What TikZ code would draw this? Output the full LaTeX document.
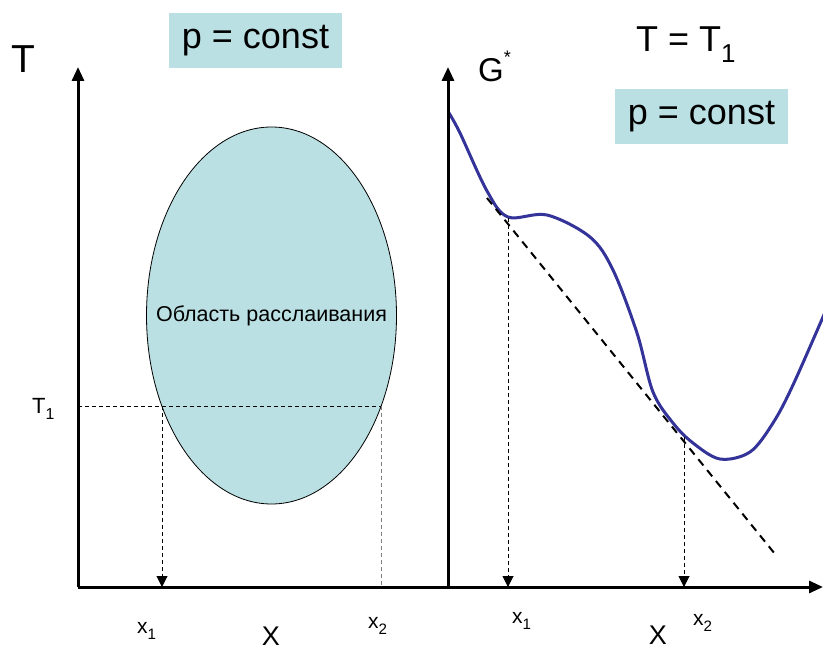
\documentclass[tikz,border=0pt]{standalone}
\usepackage{fontspec}
\setmainfont{Liberation Sans}
\usepackage{graphicx}
\usetikzlibrary{arrows.meta}
\definecolor{boxfill}{RGB}{186,224,227}
\definecolor{curveblue}{RGB}{51,51,153}
\newcommand\lowsub[1]{\raisebox{-0.3em}{\scalebox{0.72}{#1}}}
\newcommand\fsz[1]{\fontsize{#1}{#1}\selectfont}
\tikzset{
  axis/.style={line width=3pt,-{Triangle[length=14pt,width=12pt]}},
  droparrow/.style={line width=1pt,dash pattern=on 4pt off 3pt,-{Triangle[length=11pt,width=11pt]}},
  thindash/.style={line width=0.9pt,dash pattern=on 4pt off 3pt},
  constbox/.style={fill=boxfill,inner sep=0pt,minimum width=173pt,minimum height=55pt,font=\fsz{36}},
  lbl/.style={inner sep=0pt,font=\fsz{21}},
}
\begin{document}
\begin{tikzpicture}[x=1pt,y=-1pt]
\useasboundingbox (0,0) rectangle (823,650);
% ellipse
\draw[fill=boxfill,line width=0.8pt] (271.5,315.5) ellipse [x radius=125,y radius=188.5];
\node[inner sep=0pt,font=\fsz{21.5}] (reg) at (271.5,316) {Область расслаивания};
% coordinates
\coordinate (O1) at (78,587);
\coordinate (Ytop1) at (78,67);
\coordinate (O2) at (448,587);
\coordinate (Ytop2) at (448,67);
\coordinate (Xend) at (823,587);
\coordinate (T1a) at (78,406);
\coordinate (P1) at (162,406);
\coordinate (P2) at (381,406);
\coordinate (P1b) at (162,587);
\coordinate (P2b) at (381,587);
\coordinate (Q1) at (508,218);
\coordinate (Q1b) at (508,587);
\coordinate (Q2) at (684,437);
\coordinate (Q2b) at (684,587);
\coordinate (Ta) at (487,198);
\coordinate (Tb) at (775,554);
% dashed helpers
\draw[thindash] (T1a) -- (P2);
\draw[droparrow] (P1) -- (P1b);
\draw[thindash,gray] (P2) -- (P2b);
% curve
\draw[curveblue,line width=3pt,line join=round,line cap=round] plot[smooth,tension=0.55] coordinates {
(449,113) (460,133) (487,191) (508,217) (547,215) (590,237) (613,270) (637,333) (653,392) (673,423) (693,443) (720,459) (750,452) (773,423) (793,385) (826,310)};
% tangent
\draw[line width=2pt,dash pattern=on 8pt off 6pt] (Ta) -- (Tb);
\draw[droparrow] (Q1) -- (Q1b);
\draw[droparrow] (Q2) -- (Q2b);
% axes
\draw[axis] (O1) -- (Ytop1);
\draw[axis] (O2) -- (Ytop2);
\draw[axis] (O1) -- (Xend);
% labels
\node[inner sep=0pt,font=\fsz{39}] (Tlab) at (23,59) {T};
\node[constbox] (pc1) at (255.5,40.5) {p = const};
\node[constbox] (pc2) at (701.5,116.5) {p = const};
\node[inner sep=0pt,font=\fsz{36},anchor=base west] (TT) at (636,52) {T = T\lowsub{1}};
\node[inner sep=0pt,font=\fsz{33},anchor=base west] (G) at (478,82) {G\raisebox{0.55em}{\scalebox{0.55}{*}}};
\node[inner sep=0pt,font=\fsz{22},anchor=base west] (T1lab) at (32,413) {T\lowsub{1}};
\node[lbl,anchor=base west] (x1l) at (137,633) {x\lowsub{1}};
\node[lbl,anchor=base west] (x2l) at (368,628) {x\lowsub{2}};
\node[inner sep=0pt,font=\fsz{27},anchor=base] (Xl) at (271,645) {X};
\node[lbl,anchor=base west] (x1r) at (512,623) {x\lowsub{1}};
\node[lbl,anchor=base west] (x2r) at (693,625) {x\lowsub{2}};
\node[inner sep=0pt,font=\fsz{27},anchor=base] (Xr) at (658,644) {X};
\end{tikzpicture}
\end{document}
